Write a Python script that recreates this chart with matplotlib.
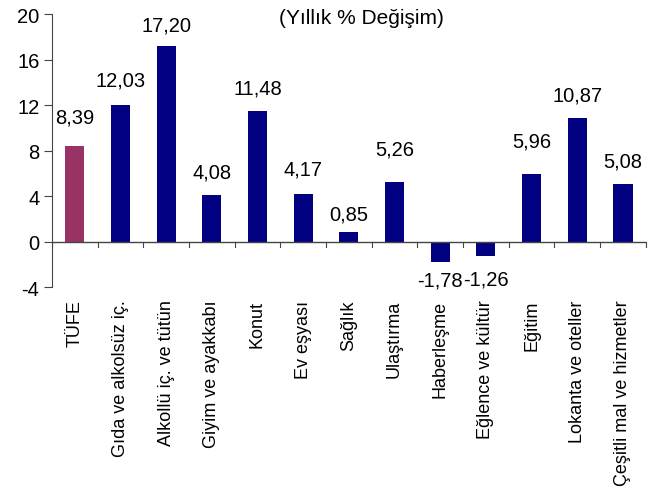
import matplotlib
matplotlib.use("Agg")
import matplotlib.pyplot as plt
import numpy as np

plt.rcParams['font.family'] = ['Liberation Sans', 'DejaVu Sans']

categories = ["TÜFE", "Gıda ve alkolsüz iç.", "Alkollü iç. ve tütün", "Giyim ve ayakkabı",
              "Konut", "Ev eşyası", "Sağlık", "Ulaştırma", "Haberleşme", "Eğlence ve kültür",
              "Eğitim", "Lokanta ve oteller", "Çeşitli mal ve hizmetler"]
values = [8.39, 12.03, 17.20, 4.08, 11.48, 4.17, 0.85, 5.26, -1.78, -1.26, 5.96, 10.87, 5.08]
value_labels = ["8,39", "12,03", "17,20", "4,08", "11,48", "4,17", "0,85", "5,26",
                "-1,78", "-1,26", "5,96", "10,87", "5,08"]
yticks = [-4, 0, 4, 8, 12, 16, 20]
title = "(Yıllık % Değişim)"

# label distance from bar end (points), as placed in the original
label_gap = [14.5, 11, 8, 10, 9.5, 11, 6, 16.5, 6, 9.5, 17, 10, 9.5]

colors = ["#993366"] + ["#000080"] * (len(values) - 1)
axis_color = "#444444"

fig = plt.figure(figsize=(6.49, 4.89), dpi=100)
ax = fig.add_axes([0.080, 0.411, 0.915, 0.558])

x = np.arange(len(values))
ax.bar(x, values, width=0.42, color=colors, zorder=2)

ax.set_xlim(-0.5, len(values) - 0.5)
ax.set_ylim(-4, 20)
ax.set_yticks(yticks)
ax.set_yticklabels([str(t) for t in yticks], fontsize=14.5)
ax.tick_params(axis='y', direction='out', length=6, width=0.8, color=axis_color, pad=3)

for s in ['top', 'right', 'bottom']:
    ax.spines[s].set_visible(False)
ax.spines['left'].set_color(axis_color)
ax.spines['left'].set_linewidth(0.8)

# zero line acting as category axis
ax.axhline(0, color=axis_color, linewidth=1.0, zorder=3)
ax.set_xticks([])
for b in np.arange(len(values) + 1) - 0.5:
    ax.plot([b, b], [0, -0.5], color=axis_color, linewidth=0.8, clip_on=False, zorder=3)

for xi, v, lab, g in zip(x, values, value_labels, label_gap):
    if v >= 0:
        ax.annotate(lab, (xi, v), xytext=(0, g), textcoords='offset points',
                    ha='center', va='bottom', fontsize=14.5)
    else:
        ax.annotate(lab, (xi, v), xytext=(0, -g), textcoords='offset points',
                    ha='center', va='top', fontsize=14.5)

for xi, c in zip(x, categories):
    ax.annotate(c, (xi, -4), xytext=(0, -9), textcoords='offset points',
                ha='center', va='top', rotation=90, fontsize=13, annotation_clip=False)

fig.text(0.557, 0.963, title, ha='center', va='center', fontsize=15)

fig.savefig("out.png", dpi=100)
